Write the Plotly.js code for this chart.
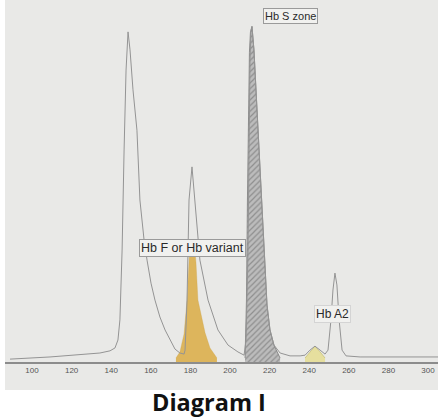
<!DOCTYPE html>
<html>
<head>
<meta charset="utf-8">
<script src="https://cdn.plot.ly/plotly-3.0.1.min.js"></script>
<style>html,body{margin:0;padding:0;background:#fff;}#chart{width:438px;height:418px;}</style>
</head>
<body>
<div id="chart"></div>
<script>
// Electropherogram trace (migration position vs. signal, arbitrary units)
const outlineX = [88.9,109.1,134.3,139.4,141.9,143.4,144.4,145.5,146.5,147.5,148.5,149.5,151.0,153.0,154.5,156.6,158.1,160.1,162.1,164.6,167.2,169.7,172.2,174.7,176.8,177.3,178.3,178.8,179.3,180.8,182.3,183.3,184.8,188.9,193.9,199.0,204.0,207.1,208.1,209.1,209.6,210.1,210.6,211.1,212.1,213.6,215.2,216.2,217.2,217.7,218.7,220.2,222.2,225.3,230.3,235.4,237.9,240.4,242.9,245.5,248.0,249.5,251.0,252.0,253.0,254.0,255.1,256.6,258.6,265.7,285.9,305.1];
const outlineY = [0.8,1.4,2.5,3.1,3.9,6.1,11.7,31.1,58.9,81.1,91.7,86.7,75.6,64.4,45.0,33.9,28.3,21.9,17.2,12.5,8.9,6.1,3.6,2.5,2.2,3.3,17.2,31.1,45.0,54.2,45.0,36.7,28.3,17.2,8.9,4.7,2.8,1.9,6.1,31.1,58.9,83.9,92.2,93.3,86.7,70.0,53.3,42.2,31.1,22.8,15.8,8.9,4.7,2.5,1.7,1.7,1.9,3.3,4.4,3.3,2.2,3.3,11.7,20.0,24.7,21.4,11.7,3.3,1.7,1.4,1.4,1.4];

// Hb F or Hb variant zone (yellow)
const hbfX = [172.7,174.7,176.8,178.3,179.3,179.8,181.8,182.8,183.8,187.4,189.9,193.4];
const hbfY = [1.1,2.8,7.8,17.2,27.8,33.9,33.9,27.8,17.2,8.1,3.9,1.1];

// Hb S zone (grey hatched)
const hbsX = [207.6,208.3,208.8,209.3,209.8,210.3,211.1,212.1,213.6,215.2,216.2,217.2,217.7,218.7,220.2,222.2,225.3];
const hbsY = [1.1,17.2,45.0,72.8,86.0,91.5,93.1,86.7,70.0,53.3,42.2,31.1,22.8,15.8,8.9,4.7,1.1];

// Hb A2 zone (pale yellow)
const hba2X = [237.9,240.4,242.9,245.5,248.0];
const hba2Y = [1.1,2.8,4.4,2.8,1.1];

const tickVals = [100,120,140,160,180,200,220,240,260,280,300];
const tickLabels = ["100","120","140","160","180","200","220","240","260","280","300"];

const labelTexts = ["Hb S zone","Hb F or Hb variant","Hb A2"];
const labelX = [230.3,181.3,252.0];
const labelY = [96.1,31.7,13.3];
const labelSizes = [11,12.5,12];
const captionText = "<b>Diagram I</b>";

const traces = [
  {x: hbfX, y: hbfY, type:'scatter', mode:'lines', fill:'tozeroy',
   fillcolor:'rgba(220,178,84,0.95)', line:{color:'rgba(200,160,70,0.6)', width:0.5}, hoverinfo:'skip'},
  {x: hbsX, y: hbsY, type:'scatter', mode:'lines', fill:'tozeroy',
   fillcolor:'#b3b3b3',
   fillpattern:{shape:'/', fgcolor:'#8f8f8f', bgcolor:'#bcbcbc', size:4, solidity:0.3},
   line:{color:'#7c7c7c', width:0.8}, hoverinfo:'skip'},
  {x: hba2X, y: hba2Y, type:'scatter', mode:'lines', fill:'tozeroy',
   fillcolor:'rgba(230,222,150,0.9)', line:{color:'#c8c27a', width:0.8}, hoverinfo:'skip'},
  {x: outlineX, y: outlineY, type:'scatter', mode:'lines',
   line:{color:'#949494', width:1}, hoverinfo:'skip'}
];

const annotations = labelTexts.map((t,i)=>({
  x: labelX[i], y: labelY[i], xref:'x', yref:'y', text: t, showarrow:false,
  font:{family:'Liberation Sans, Arial, sans-serif', size:labelSizes[i], color:'#2a2a2a'},
  bgcolor:'#f1f1ef', bordercolor: i===2 ? '#d4d4d4' : '#9a9a9a', borderwidth:1, borderpad:1
}));
annotations.push({
  x: 0.471, y: -0.11, xref:'paper', yref:'paper', text: captionText, showarrow:false,
  xanchor:'center', yanchor:'middle',
  font:{family:'Open Sans, Noto Sans, sans-serif', size:23.5, color:'#111'}
});

const layout = {
  width:438, height:418,
  margin:{l:5, r:0, t:0, b:56, pad:0},
  paper_bgcolor:'#ffffff',
  plot_bgcolor:'#e9e9e7',
  showlegend:false,
  xaxis:{range:[86.36,305.05], tickvals:tickVals, ticktext:tickLabels,
    showgrid:false, zeroline:false, showline:true, linecolor:'#8c8c8c', linewidth:1.5,
    ticks:'', tickfont:{family:'Liberation Sans, Arial, sans-serif', size:8, color:'#555'},
    fixedrange:true},
  yaxis:{range:[0,100.56], visible:false, fixedrange:true},
  shapes:[{type:'rect', xref:'paper', yref:'paper', x0:0, x1:1, y0:-0.0773, y1:1,
    fillcolor:'#e9e9e7', line:{width:0}, layer:'below'}],
  annotations: annotations
};

Plotly.newPlot('chart', traces, layout, {displayModeBar:false, staticPlot:true});
</script>
</body>
</html>
